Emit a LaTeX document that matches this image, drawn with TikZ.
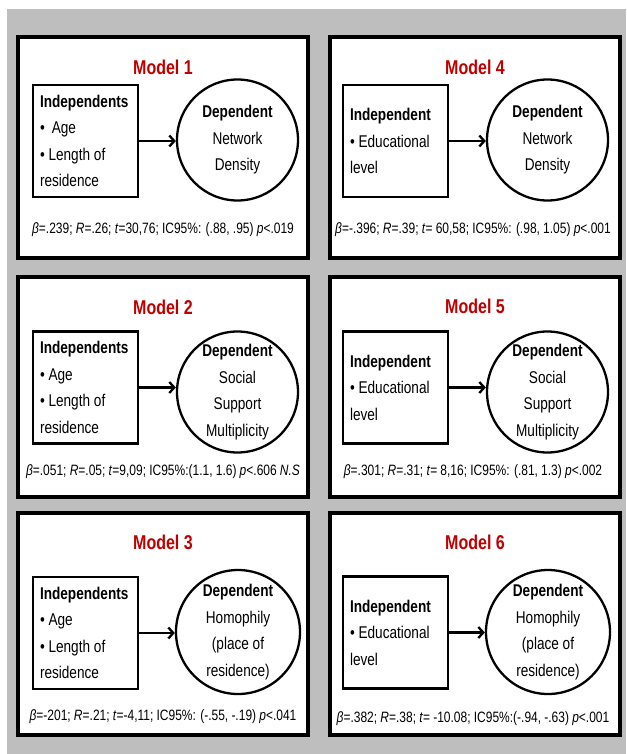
\documentclass[tikz,border=0pt]{standalone}
\usepackage{fontspec}
\setmainfont{Liberation Sans}[FakeStretch=0.8]
\usetikzlibrary{arrows.meta}
\definecolor{bggray}{RGB}{190,190,190}
\definecolor{modelred}{RGB}{192,0,0}
\newcommand\tightsp{\spaceskip=3.8pt plus 0.5pt minus 0.5pt\relax}
\newcommand\statsp{\spaceskip=3.2pt plus 0.3pt minus 0.3pt\relax}
\tikzset{
  panel/.style={draw=black, line width=3.5pt, fill=white},
  title/.style={font=\bfseries\fontsize{20}{24}\selectfont, text=modelred},
  indbox/.style={draw, line width=2.3pt, fill=white, text width=91pt, inner sep=7pt,
    minimum height=112pt, align=left, font=\fontsize{17}{26.5}\selectfont,
    execute at begin node=\tightsp},
  depcirc/.style={draw, circle, line width=2.3pt, minimum size=121pt, inner sep=0pt,
    align=center, font=\fontsize{17}{26.5}\selectfont},
  stats/.style={font=\fontsize{15}{18}\selectfont, execute at begin node=\statsp},
  arr/.style={line width=2.3pt, -{Straight Barb[length=5pt,width=11pt]}},
}
\begin{document}
\begin{tikzpicture}[x=1pt,y=-1pt]
\useasboundingbox (0,0) rectangle (626,754);
\fill[white] (0,0) rectangle (626,754);
\fill[bggray] (7,9) rectangle (626,754);

% ---------- Model 1 ----------
\draw[panel] (18,37) rectangle (308,258);
\node[title] (t1) at (163,67) {Model 1};
\node[indbox] (b1) at (85.5,141) {\textbf{Independents}\\•\hspace{7pt}Age\\• Length of\\residence};
\node[depcirc] (c1) at (237.5,140) {\textbf{Dependent}\\Network\\Density};
\draw[arr] (b1.east) -- (b1.east -| c1.west);
\node[stats] (s1) at (163,230) {\textit{β}=.239; \textit{R}=.26; \textit{t}=30,76; IC95\%: (.88, .95) \textit{p}<.019};

% ---------- Model 4 ----------
\draw[panel] (330,37) rectangle (620,258);
\node[title] (t4) at (475,67) {Model 4};
\node[indbox] (b4) at (395.5,141) {\textbf{Independent}\\• Educational\\level};
\node[depcirc] (c4) at (547.5,140) {\textbf{Dependent}\\Network\\Density};
\draw[arr] (b4.east) -- (b4.east -| c4.west);
\node[stats] (s4) at (473,230) {\textit{β}=-.396; \textit{R}=.39; \textit{t}= 60,58; IC95\%: (.98, 1.05) \textit{p}<.001};

% ---------- Model 2 ----------
\draw[panel] (18,277) rectangle (308,497);
\node[title] (t2) at (163,307) {Model 2};
\node[indbox] (b2) at (85.5,387.5) {\textbf{Independents}\\• Age\\• Length of\\residence};
\node[depcirc] (c2) at (237.5,392) {\textbf{Dependent}\\Social\\Support\\Multiplicity};
\draw[arr] (b2.east) -- (b2.east -| c2.west);
\node[stats] (s2) at (163,472) {\textit{β}=.051; \textit{R}=.05; \textit{t}=9,09; IC95\%:(1.1, 1.6) \textit{p}<.606 \textit{N.S}};

% ---------- Model 5 ----------
\draw[panel] (330,277) rectangle (620,497);
\node[title] (t5) at (475,306) {Model 5};
\node[indbox] (b5) at (395.5,387.5) {\textbf{Independent}\\• Educational\\level};
\node[depcirc] (c5) at (547.5,392) {\textbf{Dependent}\\Social\\Support\\Multiplicity};
\draw[arr] (b5.east) -- (b5.east -| c5.west);
\node[stats] (s5) at (473,472) {\textit{β}=.301; \textit{R}=.31; \textit{t}= 8,16; IC95\%: (.81, 1.3) \textit{p}<.002};

% ---------- Model 3 ----------
\draw[panel] (18,513) rectangle (308,735);
\node[title] (t3) at (163,542) {Model 3};
\node[indbox] (b3) at (85.5,633) {\textbf{Independents}\\• Age\\• Length of\\residence};
\node[depcirc, minimum size=124pt] (c3) at (238,632) {\textbf{Dependent}\\Homophily\\(place of\\residence)};
\draw[arr] (b3.east) -- (b3.east -| c3.west);
\node[stats] (s3) at (163,717) {\textit{β}=-201; \textit{R}=.21; \textit{t}=-4,11; IC95\%: (-.55, -.19) \textit{p}<.041};

% ---------- Model 6 ----------
\draw[panel] (330,513) rectangle (620,735);
\node[title] (t6) at (475,542) {Model 6};
\node[indbox] (b6) at (395.5,632.5) {\textbf{Independent}\\• Educational\\level};
\node[depcirc, minimum size=124pt] (c6) at (548,632) {\textbf{Dependent}\\Homophily\\(place of\\residence)};
\draw[arr] (b6.east) -- (b6.east -| c6.west);
\node[stats] (s6) at (473,719) {\textit{β}=.382; \textit{R}=.38; \textit{t}= -10.08; IC95\%:(-.94, -.63) \textit{p}<.001};
\end{tikzpicture}
\end{document}
